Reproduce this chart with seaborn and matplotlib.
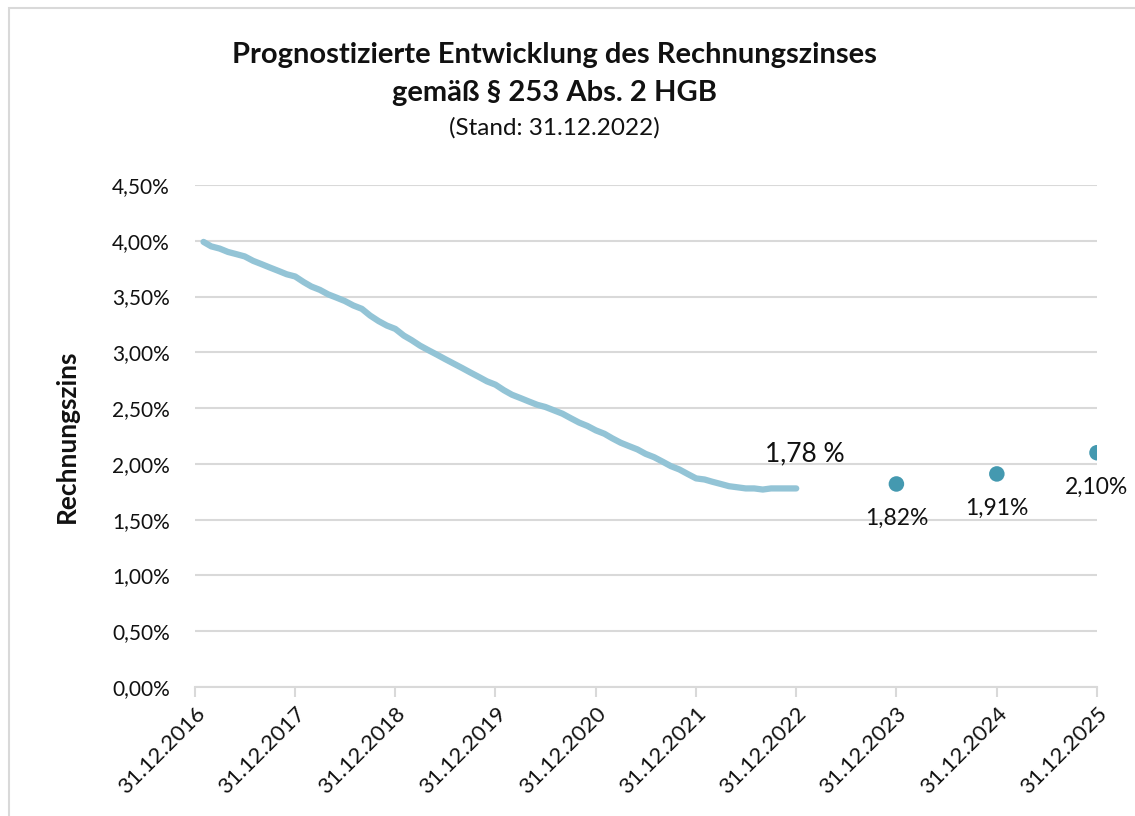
"""Prognostizierte Entwicklung des Rechnungszinses - recreation."""

import matplotlib
matplotlib.use("Agg")
import matplotlib.pyplot as plt
import matplotlib.transforms as mtransforms
from matplotlib.patches import Rectangle
from matplotlib.ticker import FuncFormatter
import seaborn as sns
import pandas as pd

# Monthly Rechnungszins (in %) Jan 2017 - Dec 2022
hist_dates = pd.date_range("2017-01-31", "2022-12-31", freq="ME")
hist_rates = [
    3.99, 3.95, 3.93, 3.90, 3.88, 3.86, 3.82, 3.79, 3.76, 3.73, 3.70, 3.68,
    3.63, 3.59, 3.56, 3.52, 3.49, 3.46, 3.42, 3.39, 3.33, 3.28, 3.24, 3.21,
    3.15, 3.11, 3.06, 3.02, 2.98, 2.94, 2.90, 2.86, 2.82, 2.78, 2.74, 2.71,
    2.66, 2.62, 2.59, 2.56, 2.53, 2.51, 2.48, 2.45, 2.41, 2.37, 2.34, 2.30,
    2.27, 2.23, 2.19, 2.16, 2.13, 2.09, 2.06, 2.02, 1.98, 1.95, 1.91, 1.87,
    1.86, 1.84, 1.82, 1.80, 1.79, 1.78, 1.78, 1.77, 1.78, 1.78, 1.78, 1.78,
]

# Forecast points
prog_dates = pd.to_datetime(["2023-12-31", "2024-12-31", "2025-12-31"])
prog_rates = [1.82, 1.91, 2.10]
prog_labels = ["1,82%", "1,91%", "2,10%"]

tick_years = list(range(2016, 2026))

LINE_COLOR = "#93C4D6"
POINT_COLOR = "#4499B0"
GRID_COLOR = "#D9D9D9"
TEXT_COLOR = "#111111"
FONT = ["Lato", "DejaVu Sans"]

sns.set_theme(style="white")
plt.rcParams["font.family"] = FONT

hist_df = pd.DataFrame({"date": hist_dates, "rate": hist_rates})
prog_df = pd.DataFrame({"date": prog_dates, "rate": prog_rates})

W, H = 1135, 816
fig = plt.figure(figsize=(W / 100, H / 100), dpi=100)
ax = fig.add_axes([195 / W, 1 - 687 / H, (1097 - 195) / W, (687 - 185) / H])

# outer chart border
fig.patches.append(Rectangle((9 / W, -0.05), 1.2, 1 - 8 / H + 0.05,
                             transform=fig.transFigure, fill=False,
                             edgecolor=GRID_COLOR, linewidth=1.5))

sns.lineplot(data=hist_df, x="date", y="rate", ax=ax, color=LINE_COLOR,
             linewidth=4.5, solid_capstyle="round", solid_joinstyle="round")
sns.scatterplot(data=prog_df, x="date", y="rate", ax=ax, color=POINT_COLOR,
                s=125, edgecolor="none", zorder=3)

# labels
ax.annotate("1,78 %", xy=(hist_dates[-1], hist_rates[-1]), xytext=(6, 25),
            textcoords="offset points", ha="center", va="center",
            fontsize=19, color=TEXT_COLOR)
for d, r, lab in zip(prog_dates, prog_rates, prog_labels):
    ax.annotate(lab, xy=(d, r), xytext=(0, -25), textcoords="offset points",
                ha="center", va="center", fontsize=16.5, color=TEXT_COLOR)

# axes
ax.set_ylim(0, 4.5)
ax.set_yticks([i * 0.5 for i in range(10)])
ax.yaxis.set_major_formatter(FuncFormatter(lambda v, p: f"{v:.2f}%".replace(".", ",")))
ticks = pd.to_datetime([f"{y}-12-31" for y in tick_years])
ax.set_xlim(ticks[0], ticks[-1])
ax.set_xticks(ticks)
ax.set_xticklabels([f"31.12.{y}" for y in tick_years], rotation=45,
                   ha="right", va="top", rotation_mode="anchor", fontsize=16)
shift = mtransforms.ScaledTranslation(-4 / 100, 3 / 100, fig.dpi_scale_trans)
for lab in ax.get_xticklabels():
    lab.set_transform(lab.get_transform() + shift)
ax.tick_params(axis="y", labelsize=15, length=0, pad=18, labelcolor=TEXT_COLOR)
ax.tick_params(axis="x", length=7, width=1.5, color=GRID_COLOR, pad=5,
               labelcolor=TEXT_COLOR, bottom=True)
ax.grid(axis="y", color=GRID_COLOR, linewidth=1.5)
ax.grid(axis="x", visible=False)
for side in ["left", "right", "top"]:
    ax.spines[side].set_visible(False)
ax.spines["bottom"].set_color(GRID_COLOR)
ax.spines["bottom"].set_linewidth(1.5)
ax.set_xlabel("")
ax.set_ylabel("Rechnungszins", fontsize=19, fontweight="bold", labelpad=24,
              color=TEXT_COLOR)

# titles
fig.text(554 / W, 1 - 55 / H, "Prognostizierte Entwicklung des Rechnungszinses",
         ha="center", va="center", fontsize=21, fontweight="bold", color=TEXT_COLOR)
fig.text(554 / W, 1 - 93 / H, "gemäß § 253 Abs. 2 HGB",
         ha="center", va="center", fontsize=21, fontweight="bold", color=TEXT_COLOR)
fig.text(554 / W, 1 - 128 / H, "(Stand: 31.12.2022)",
         ha="center", va="center", fontsize=17.5, color=TEXT_COLOR)

fig.savefig("out.png", dpi=100)
